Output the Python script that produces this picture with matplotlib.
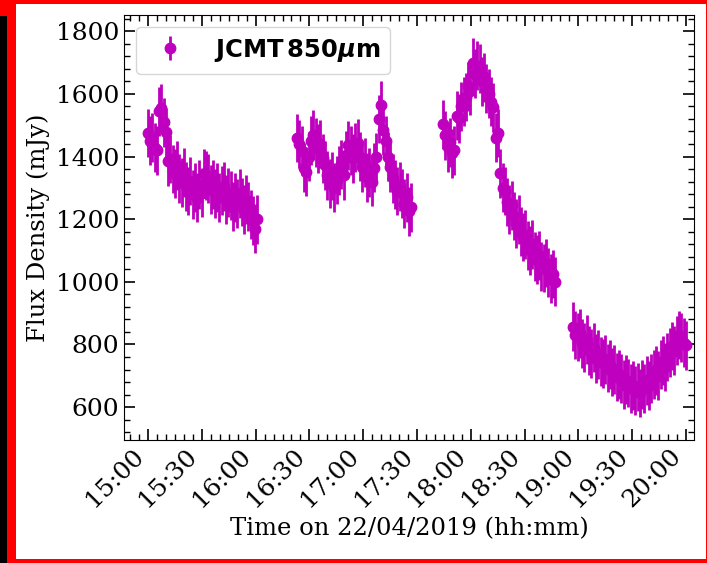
import datetime as dt
import numpy as np
import matplotlib
matplotlib.use("Agg")
import matplotlib.pyplot as plt
import matplotlib.dates as mdates
from matplotlib.patches import Rectangle

# JCMT 850um light curve, 22/04/2019, four scans
day = dt.datetime(2019, 4, 22, 15, 0)

# scan start / end, minutes after 15:00
seg_start = [0.0, 83.0, 164.5, 237.0]
seg_end = [61.0, 146.9, 227.1, 300.0]

flux1 = [1475, 1450, 1462, 1428, 1420, 1545, 1555, 1510, 1478, 1385,
         1392, 1360, 1345, 1372, 1330, 1318, 1350, 1305, 1290, 1322,
         1280, 1300, 1268, 1310, 1285, 1345, 1340, 1330, 1295, 1310,
         1282, 1300, 1270, 1292, 1305, 1262, 1285, 1275, 1240, 1268,
         1250, 1282, 1255, 1230, 1262, 1240, 1215, 1195, 1170, 1200]
flux2 = [1459, 1440, 1418, 1365, 1352, 1400, 1450, 1470, 1445, 1425,
         1440, 1395, 1372, 1340, 1315, 1338, 1300, 1325, 1356, 1375,
         1340, 1405, 1436, 1420, 1395, 1430, 1443, 1400, 1366, 1380,
         1334, 1350, 1320, 1365, 1398, 1520, 1564, 1484, 1450, 1400,
         1366, 1330, 1310, 1290, 1305, 1283, 1250, 1270, 1225, 1238]
flux3 = [1503, 1468, 1430, 1445, 1410, 1420, 1530, 1522, 1560, 1575,
         1590, 1625, 1610, 1700, 1665, 1690, 1682, 1640, 1653, 1618,
         1600, 1575, 1557, 1460, 1475, 1347, 1300, 1290, 1255, 1230,
         1245, 1210, 1187, 1200, 1160, 1143, 1150, 1115, 1101, 1120,
         1080, 1070, 1085, 1050, 1044, 1060, 1030, 1010, 1025, 1000]
flux4 = [856, 830, 824, 835, 804, 790, 815, 782, 772, 790,
         755, 768, 745, 740, 752, 725, 735, 712, 720, 696,
         705, 690, 672, 688, 677, 660, 670, 652, 664, 645,
         672, 660, 686, 668, 690, 705, 718, 700, 735, 748,
         728, 760, 775, 795, 780, 814, 830, 822, 805, 798]
fluxes = [flux1, flux2, flux3, flux4]
flux_err = 78  # mJy

times, flux = [], []
for t0, t1, f in zip(seg_start, seg_end, fluxes):
    mins = np.linspace(t0, t1, len(f))
    times += [day + dt.timedelta(minutes=float(m)) for m in mins]
    flux += f
flux = np.array(flux)

plt.rcParams['font.family'] = 'DejaVu Serif'
plt.rcParams['mathtext.fontset'] = 'dejavusans'

fig = plt.figure(figsize=(7.07, 5.63), dpi=100)
ax = fig.add_axes([0.1754, 0.2185, 0.8062, 0.7549])

ax.errorbar(times, flux, yerr=flux_err, fmt='o', color='m', ms=7.5,
            elinewidth=2, capsize=0,
            label=r'$\mathbf{JCMT\,850}\boldsymbol{\mu}\mathbf{m}$')

ax.set_xlim(day - dt.timedelta(minutes=13.4), day + dt.timedelta(minutes=304.5))
ax.set_ylim(495, 1852)
ax.xaxis.set_major_locator(mdates.MinuteLocator(byminute=[0, 30]))
ax.xaxis.set_minor_locator(mdates.MinuteLocator(byminute=range(0, 60, 5)))
ax.xaxis.set_major_formatter(mdates.DateFormatter('%H:%M'))
ax.yaxis.set_major_locator(plt.MultipleLocator(200))
ax.yaxis.set_minor_locator(plt.MultipleLocator(40))
ax.tick_params(which='both', direction='in', top=True, right=True, labelsize=18)
ax.tick_params(which='major', length=8, width=1.2)
ax.tick_params(which='minor', length=4, width=1)
plt.setp(ax.get_xticklabels(), rotation=45, ha='right')

ax.set_xlabel('Time on 22/04/2019 (hh:mm)', fontsize=17.5)
ax.set_ylabel('Flux Density (mJy)', fontsize=17.5)
ax.legend(loc='upper left', prop={'family': 'DejaVu Sans', 'size': 17.5})

# frame around the figure
fig.add_artist(Rectangle((0, 0), 1, 1, transform=fig.transFigure, fc='red', ec='none', zorder=-10))
fig.add_artist(Rectangle((16 / 707, 4 / 563), 690 / 707, 555 / 563, transform=fig.transFigure,
                         fc='white', ec='none', zorder=-9))
fig.add_artist(Rectangle((0, 0), 7 / 707, 547 / 563, transform=fig.transFigure,
                         fc='black', ec='none', zorder=10))

fig.savefig('out.png', dpi=100)
